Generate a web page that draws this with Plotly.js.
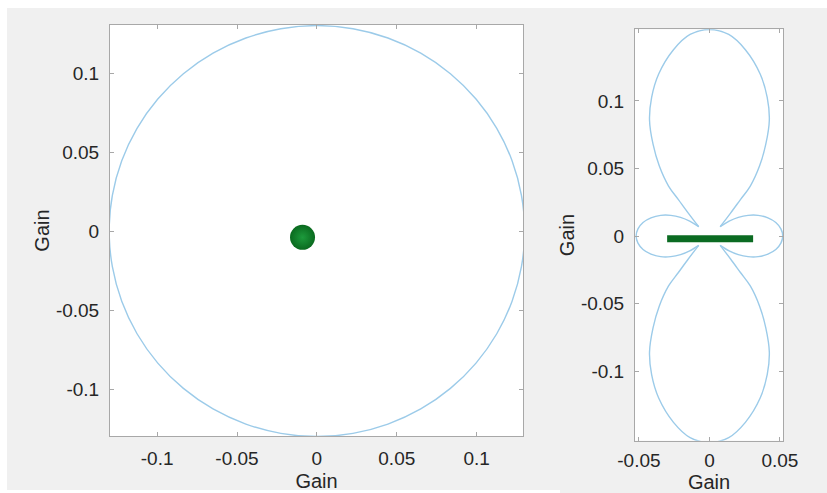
<!DOCTYPE html>
<html><head><meta charset="utf-8">
<script src="https://cdn.plot.ly/plotly-3.0.1.min.js"></script>
<style>html,body{margin:0;padding:0;background:#fff}#chart{width:827px;height:493px}</style>
</head><body><div id="chart"></div>
<script>
// Left panel: omnidirectional pattern (gain vs angle, degrees)
const leftAngleDeg = [0,10,20,30,40,50,60,70,80,90,100,110,120,130,140,150,160,170,180,190,200,210,220,230,240,250,260,270,280,290,300,310,320,330,340,350,360];
const leftGain = [0.13,0.13,0.13,0.13,0.13,0.13,0.13,0.13,0.13,0.13,0.13,0.13,0.13,0.13,0.13,0.13,0.13,0.13,0.13,0.13,0.13,0.13,0.13,0.13,0.13,0.13,0.13,0.13,0.13,0.13,0.13,0.13,0.13,0.13,0.13,0.13,0.13];
// Left panel: element position (top view)
const leftDotX = [-0.009];
const leftDotY = [-0.004];

// Right panel: pattern outline in the first quadrant (symmetric about both axes)
// side lobe: from its tip on the x axis to the cusp where it meets the main lobe
const sideLobeX = [0.0520,0.0507,0.0471,0.0415,0.0346,0.0274,0.0205,0.0140,0.0076];
const sideLobeY = [0.0000,0.0053,0.0100,0.0134,0.0153,0.0153,0.0138,0.0110,0.0069];
// main lobe: from its tip on the y axis down to the cusp
const mainLobeX = [0.0,0.0137,0.0255,0.036,0.041,0.0425,0.040,0.0356,0.029,0.022,0.015,0.0076];
const mainLobeY = [0.153,0.1493,0.138,0.120,0.1027,0.086,0.068,0.052,0.037,0.027,0.017,0.0069];
// Right panel: element (side view)
const barX = [-0.030, 0.031];
const barY = [-0.002, -0.002];

// Tick labels
const leftTicks = [-0.1,-0.05,0,0.05,0.1];
const leftTickText = ['-0.1','-0.05','0','0.05','0.1'];
const rightXTicks = [-0.05,0,0.05];
const rightXTickText = ['-0.05','0','0.05'];
const rightYTicks = [-0.1,-0.05,0,0.05,0.1];
const rightYTickText = ['-0.1','-0.05','0','0.05','0.1'];

function polarToXY(ang, r){
  const x=[],y=[];
  for(let i=0;i<ang.length;i++){const t=ang[i]*Math.PI/180;x.push(r[i]*Math.cos(t));y.push(r[i]*Math.sin(t));}
  return {x,y};
}
// whole lobe from a half lobe (ordered from the axis point to the cusp), mirrored across an axis
function mirrorHalf(hx, hy, acrossX){
  const x=[],y=[];
  for(let i=hx.length-1;i>=1;i--){ x.push(acrossX? hx[i] : -hx[i]); y.push(acrossX? -hy[i] : hy[i]); }
  for(let i=0;i<hx.length;i++){ x.push(hx[i]); y.push(hy[i]); }
  return {x,y};
}
const rightLobe = mirrorHalf(sideLobeX, sideLobeY, true);
const leftLobe = {x:rightLobe.x.map(v=>-v), y:rightLobe.y};
const upperLobe = mirrorHalf(mainLobeX, mainLobeY, false);
const lowerLobe = {x:upperLobe.x, y:upperLobe.y.map(v=>-v)};

const L = polarToXY(leftAngleDeg,leftGain);

const lineCol = '#9ccbe9';
function lobeTrace(p){return {x:p.x,y:p.y,type:'scatter',mode:'lines',line:{color:lineCol,width:1.4,shape:'spline',smoothing:1},xaxis:'x2',yaxis:'y2',hoverinfo:'skip'};}
const traces = [
  {x:L.x,y:L.y,type:'scatter',mode:'lines',line:{color:lineCol,width:1.4,shape:'spline'},xaxis:'x',yaxis:'y',hoverinfo:'skip'},
  {x:leftDotX,y:leftDotY,type:'scatter',mode:'markers',marker:{size:25,color:'#0a6a1f',gradient:{type:'radial',color:'#1d9a3c'},line:{width:0}},xaxis:'x',yaxis:'y'},
  lobeTrace(rightLobe), lobeTrace(upperLobe), lobeTrace(leftLobe), lobeTrace(lowerLobe),
  {x:barX,y:barY,type:'scatter',mode:'lines',line:{color:'#0b6b22',width:7},xaxis:'x2',yaxis:'y2'}
];

const W=827,H=493;
const axBase = {showline:true,mirror:'ticks',linecolor:'#a8a8a8',linewidth:1,ticks:'inside',ticklen:4,tickcolor:'#a8a8a8',
  showgrid:false,zeroline:false,tickfont:{family:'Liberation Sans, Arial, sans-serif',size:19,color:'#262626'},
  tickmode:'array',fixedrange:true};
const titleFont = {family:'Liberation Sans, Arial, sans-serif',size:20,color:'#262626'};

const layout = {
  width:W,height:H,margin:{l:0,r:0,t:0,b:0},paper_bgcolor:'#f0f0f0',plot_bgcolor:'#ffffff',showlegend:false,
  shapes:[
    {type:'rect',xref:'paper',yref:'paper',x0:0,x1:1,y0:1-8/H,y1:1,fillcolor:'#ffffff',line:{width:0},layer:'below'},
    {type:'rect',xref:'paper',yref:'paper',x0:0,x1:7/W,y0:0,y1:1,fillcolor:'#ffffff',line:{width:0},layer:'below'},
    {type:'rect',xref:'paper',yref:'paper',x0:0,x1:560/W,y0:0,y1:3/H,fillcolor:'#ffffff',line:{width:0},layer:'below'}
  ],
  xaxis:Object.assign({},axBase,{domain:[110/W,523/W],range:[-0.1295,0.129],tickvals:leftTicks,ticktext:leftTickText,anchor:'y',
    ticklabelstandoff:5,title:{text:'Gain',font:titleFont,standoff:6}}),
  yaxis:Object.assign({},axBase,{domain:[1-436/H,1-25/H],range:[-0.1297,0.1304],tickvals:leftTicks,ticktext:leftTickText,anchor:'x',
    ticklabelstandoff:6,title:{text:'Gain',font:titleFont,standoff:0}}),
  xaxis2:Object.assign({},axBase,{domain:[635/W,783/W],range:[-0.0528,0.0522],tickvals:rightXTicks,ticktext:rightXTickText,anchor:'y2',
    ticklabelstandoff:2,title:{text:'Gain',font:titleFont,standoff:16}}),
  yaxis2:Object.assign({},axBase,{domain:[1-440.7/H,1-29.3/H],range:[-0.1516,0.1531],tickvals:rightYTicks,ticktext:rightYTickText,anchor:'x2',
    ticklabelstandoff:6,title:{text:'Gain',font:titleFont,standoff:0}})
};
Plotly.newPlot('chart',traces,layout,{displayModeBar:false,staticPlot:true});
</script></body></html>
